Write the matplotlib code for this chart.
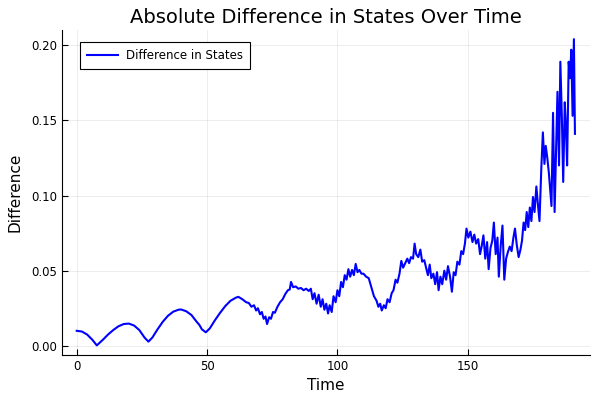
import matplotlib
matplotlib.use("Agg")
import matplotlib.pyplot as plt

# time points and |difference|
time = [0, 2, 4, 6, 7.7, 10, 12, 14, 16, 18, 20, 22, 24, 26, 27.5, 29, 31, 33, 35, 37,
        39, 40, 42, 44, 46, 47, 48, 49.5, 51, 53, 55, 57, 59, 61,
        62, 63.5, 65, 66, 67, 68, 68.8, 69.5, 70.3, 71, 71.7, 72.4, 73, 73.8, 74.5, 75.3,
        76, 77, 78, 79, 80, 81, 81.7, 82.2, 83, 84, 85, 86, 87, 88, 89, 89.8,
        90.5, 91.2, 92, 92.8, 93.6, 94.3, 95, 95.7, 96.4, 97, 97.8, 98.5, 99.3, 100,
        100.7, 101.4, 102.1, 102.8, 103.5, 104.2, 104.9, 105.6, 106.3, 107, 107.7, 108.4,
        109.2, 110, 111, 112, 113, 114, 115, 115.7, 116.4, 117, 117.8, 118.5, 119.2, 120,
        120.8, 121.5, 122.3, 123, 123.8, 124.5, 125.2, 126, 126.8, 127.5, 128.2, 129,
        129.6, 130.2, 131, 131.8, 132.5, 133.3, 134, 134.7, 135.4, 136, 136.8, 137.5,
        138.2, 138.8, 139.5, 140.2, 141, 141.7, 142.4, 143.2, 143.9, 144.6, 145.3, 146,
        146.8, 147.5, 148.2, 148.9, 149.5, 150.2, 151, 151.8, 152.5, 153.2, 154, 154.7,
        155.3, 156, 156.7, 157.4, 158, 158.7, 159.4, 160, 160.7, 161.4, 161.9, 162.6,
        163.3, 164, 164.7, 165.4, 166.1, 166.8, 167.5, 168.1, 168.8, 169.5, 170.2, 170.8,
        171.4, 172, 172.6, 173.2, 173.8, 174.4, 175, 175.6, 176.3, 176.9, 177.5, 178.2,
        178.8, 179.4, 179.9, 180.5, 181.1, 181.7, 182.1, 182.7, 183.3, 183.9, 184.4, 185,
        185.5, 186.1, 186.6, 187.2, 187.6, 188.1, 188.7, 189.2, 189.7, 190.2, 190.7, 191.1]
diff = [.010, .0095, .0075, .004, .0003, .004, .0075, .0105, .013, .0145, .0148, .0135,
        .0105, .0055, .0028, .0055, .011, .016, .020, .0227, .024, .0242, .023, .0205,
        .016, .014, .011, .009, .0115, .017, .022, .0265, .030, .032,
        .0326, .031, .029, .0285, .026, .027, .0235, .025, .021, .0225, .018, .0195,
        .0145, .019, .018, .0225, .022, .026, .029, .031, .0345, .037, .0375, .0425,
        .039, .0395, .038, .0385, .037, .038, .0365, .038,
        .031, .035, .028, .034, .026, .031, .024, .028, .0215, .027, .0225, .033, .029,
        .037, .033, .0425, .039, .047, .044, .051, .046, .0505, .047, .0545, .049, .0505,
        .048, .048, .046, .045, .039, .033, .030, .026, .028, .0235, .027, .025, .031,
        .029, .035, .037, .044, .042, .048, .0565, .052, .055, .058, .055, .059, .058,
        .068, .061, .059, .064, .056, .057, .052, .047, .054, .045, .048, .041,
        .049, .037, .046, .041, .050, .044, .053, .046, .036, .049, .047, .056,
        .054, .063, .061, .068, .078, .072, .076, .069, .074, .068, .071, .061,
        .066, .0735, .058, .069, .051, .065, .070, .082, .061, .072, .046, .066,
        .080, .044, .058, .0625, .066, .063, .072, .078, .067, .059, .064, .070,
        .082, .077, .089, .079, .092, .083, .099, .089, .106, .094, .083, .118,
        .142, .121, .133, .125, .115, .102, .093, .155, .089, .133, .169, .120,
        .189, .151, .109, .162, .148, .120, .189, .178, .197, .153, .204, .141]

fig = plt.figure(figsize=(6, 4), dpi=100)
ax = fig.add_axes([0.103, 0.1125, 0.880, 0.8125])

ax.plot(time, diff, color="#0000ff", lw=1.5, label="Difference in States")

ax.set_xlim(-5.73, 196.8)
ax.set_ylim(-0.0061, 0.2101)
ax.set_xticks([0, 50, 100, 150])
ax.set_yticks([0.0, 0.05, 0.10, 0.15, 0.20])
ax.set_yticklabels(["0.00", "0.05", "0.10", "0.15", "0.20"])
ax.grid(True, color="black", alpha=0.1, lw=0.5)
for s in ("top", "right"):
    ax.spines[s].set_visible(False)
ax.tick_params(direction="in", length=4, labelsize=8.5, width=0.8)

ax.set_title("Absolute Difference in States Over Time", fontsize=14, pad=5)
ax.set_xlabel("Time", fontsize=11)
ax.set_ylabel("Difference", fontsize=11, labelpad=6)

leg = ax.legend(loc="upper left", bbox_to_anchor=(0.034, 0.963), borderaxespad=0,
                fontsize=8.5, fancybox=False, framealpha=1, edgecolor="black",
                borderpad=0.6, handlelength=2.6, handletextpad=0.7)
leg.get_frame().set_linewidth(0.8)

fig.savefig("out.png", dpi=100)
